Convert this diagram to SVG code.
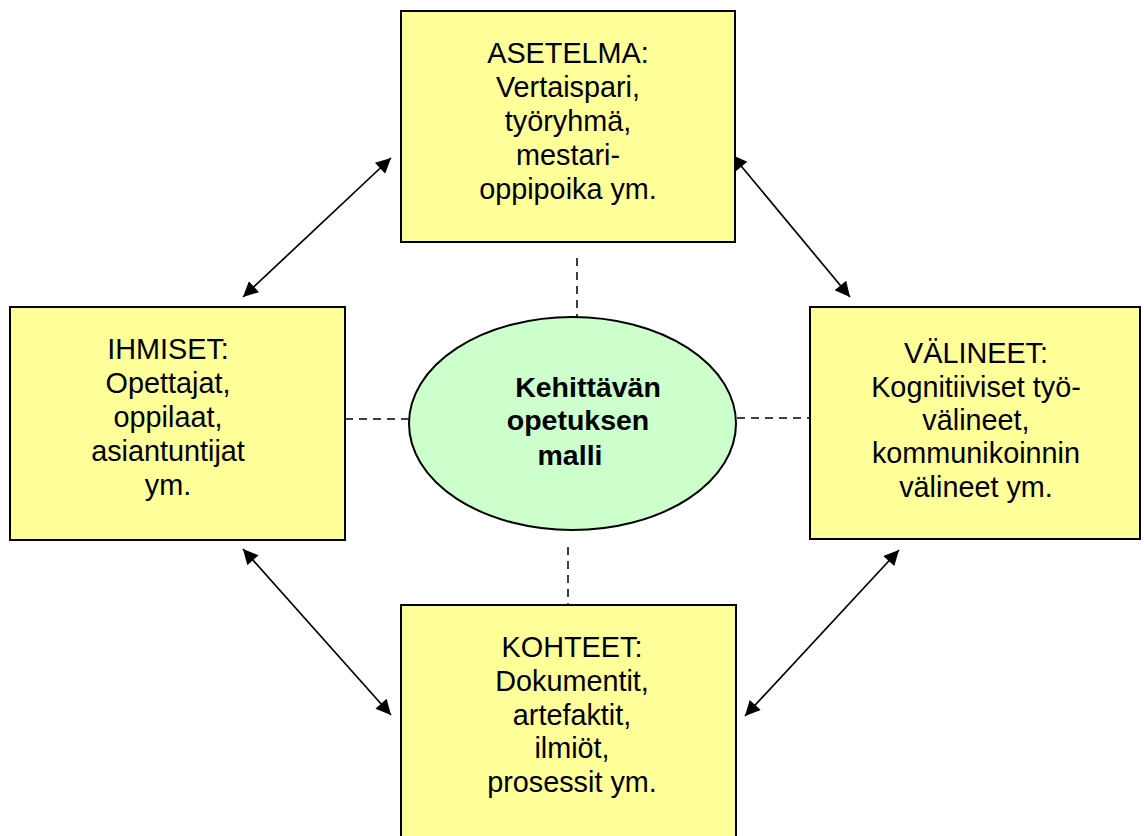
<svg xmlns="http://www.w3.org/2000/svg" width="1144" height="836" viewBox="0 0 1144 836">
<defs>
<marker id="ah" viewBox="0 0 10 10" refX="10" refY="5" markerWidth="19" markerHeight="15" markerUnits="userSpaceOnUse" orient="auto-start-reverse">
<path d="M0,0 L10,5 L0,10 z" fill="#000"/>
</marker>
<style>
.box{fill:#FFFF99;stroke:#000;stroke-width:2}
.ell{fill:#CCFFCC;stroke:#000;stroke-width:2}
.t{font-family:"Liberation Sans",Arial,sans-serif;font-size:28.8px;fill:#000;text-anchor:middle}
.b{font-family:"Liberation Sans",Arial,sans-serif;font-size:28.5px;font-weight:bold;fill:#000;text-anchor:middle}
.arr{stroke:#000;stroke-width:1.7;fill:none;marker-start:url(#ah);marker-end:url(#ah)}
.dash{stroke:#000;stroke-width:1.5;fill:none;stroke-dasharray:8 6}
</style>
</defs>
<rect width="1144" height="836" fill="#fff"/>
<g id="connectors">
<line class="arr" x1="391" y1="158" x2="243" y2="297"/>
<line class="arr" x1="732" y1="155" x2="850" y2="297"/>
<line class="arr" x1="243" y1="549" x2="391" y2="715"/>
<line class="arr" x1="899" y1="550" x2="745" y2="716"/>
<line class="dash" x1="577" y1="258" x2="577" y2="317"/>
<line class="dash" x1="568" y1="547" x2="568" y2="605"/>
<line class="dash" x1="345" y1="419" x2="409" y2="419"/>
<line class="dash" x1="737" y1="418" x2="810" y2="418"/>
</g>
<g id="asetelma">
<rect class="box" x="401" y="11" width="334" height="231"/>
<text class="t" x="568" y="63">ASETELMA:</text>
<text class="t" x="568" y="97">Vertaispari,</text>
<text class="t" x="568" y="131">työryhmä,</text>
<text class="t" x="568" y="165">mestari-</text>
<text class="t" x="568" y="199">oppipoika ym.</text>
</g>
<g id="ihmiset">
<rect class="box" x="10" y="307" width="335" height="233"/>
<text class="t" x="168" y="359">IHMISET:</text>
<text class="t" x="168" y="393">Opettajat,</text>
<text class="t" x="168" y="427">oppilaat,</text>
<text class="t" x="168" y="461">asiantuntijat</text>
<text class="t" x="168" y="495">ym.</text>
</g>
<g id="valineet">
<rect class="box" x="810" y="307" width="330" height="232"/>
<text class="t" x="976" y="363">VÄLINEET:</text>
<text class="t" x="976" y="397">Kognitiiviset työ-</text>
<text class="t" x="976" y="430">välineet,</text>
<text class="t" x="976" y="463">kommunikoinnin</text>
<text class="t" x="976" y="497">välineet ym.</text>
</g>
<g id="kohteet">
<rect class="box" x="401" y="605" width="335" height="240"/>
<text class="t" x="572" y="657">KOHTEET:</text>
<text class="t" x="572" y="691">Dokumentit,</text>
<text class="t" x="572" y="725">artefaktit,</text>
<text class="t" x="572" y="758">ilmiöt,</text>
<text class="t" x="572" y="792">prosessit ym.</text>
</g>
<g id="malli">
<ellipse class="ell" cx="572.5" cy="423.5" rx="163.5" ry="106.5"/>
<text class="b" x="588" y="397">Kehittävän</text>
<text class="b" x="578" y="430">opetuksen</text>
<text class="b" x="570" y="465">malli</text>
</g>
</svg>
